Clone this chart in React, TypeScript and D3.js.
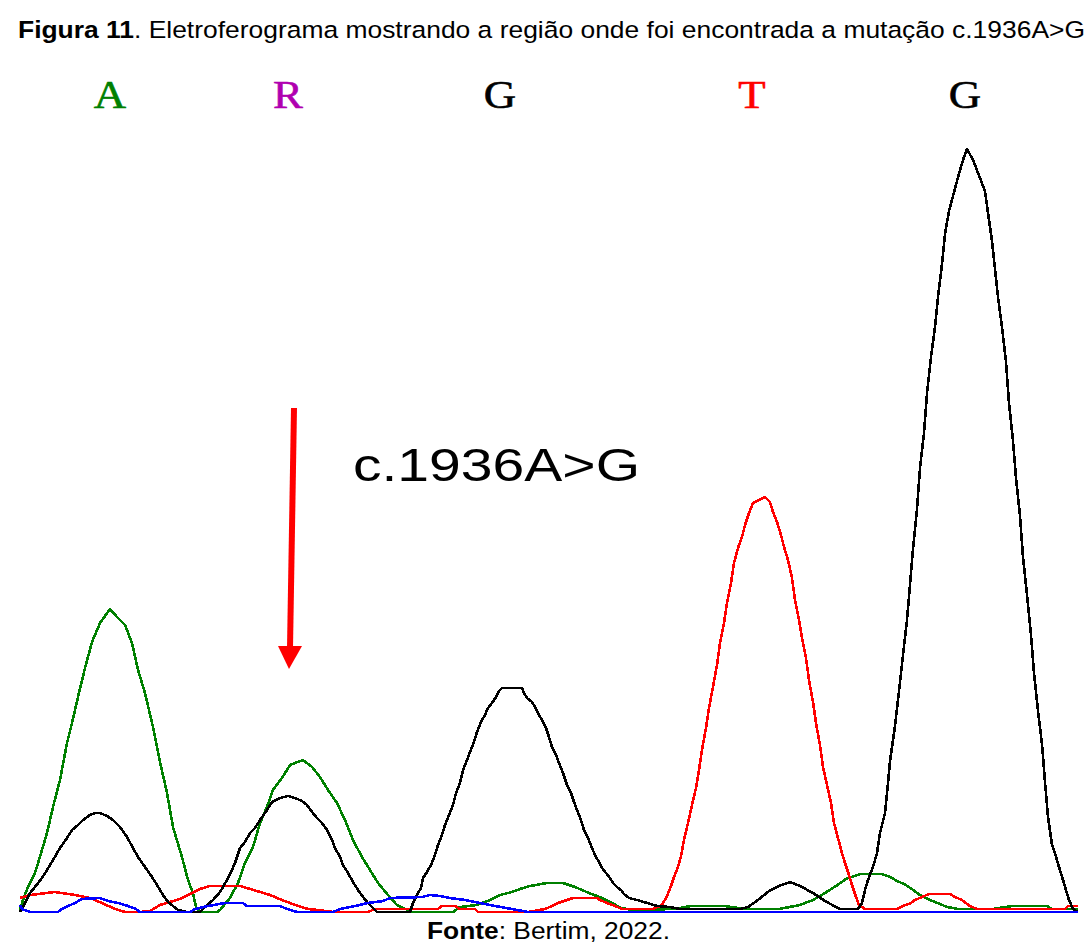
import React, { useEffect, useRef } from "react";
import * as d3 from "d3";

// trace samples: [scan, signal]
const traceA: [number, number][] = [
  [0, 2], [2, 9], [4, 15], [8, 25], [15, 39], [22, 62], [27, 79], [33, 105], [40, 132], [47, 169],
  [52, 189], [58, 215], [65, 244], [72, 270], [80, 289], [90, 303], [97, 295], [105, 287], [112, 269],
  [118, 242], [125, 219], [133, 185], [140, 150], [147, 119], [153, 85], [162, 55], [168, 32], [173, 19],
  [176, 5], [180, 0], [197, 0], [200, 2], [210, 14], [218, 29], [225, 49], [233, 65], [240, 89],
  [247, 105], [253, 122], [262, 134], [270, 147], [283, 152], [292, 145], [300, 135], [308, 122],
  [317, 109], [325, 92], [333, 72], [342, 55], [350, 42], [358, 29], [368, 17], [377, 7], [392, 0],
  [433, 0], [440, 5], [457, 7], [470, 12], [480, 17], [492, 20], [500, 23], [510, 26], [527, 29],
  [543, 29], [555, 25], [569, 19], [582, 14], [592, 9], [601, 4], [612, 2], [654, 3], [671, 6],
  [705, 6], [724, 3], [759, 3], [780, 7], [793, 12], [805, 19], [816, 26], [826, 33], [840, 38],
  [862, 38], [870, 35], [877, 31], [884, 28], [892, 23], [900, 17], [910, 12], [920, 8], [927, 5],
  [938, 3], [973, 3], [992, 6], [1027, 6], [1032, 3], [1058, 3],
];

const traceG: [number, number][] = [
  [0, 0], [5, 9], [10, 19], [15, 25], [22, 34], [27, 42], [33, 52], [40, 64], [47, 74], [52, 82],
  [58, 87], [63, 92], [70, 97], [75, 99], [80, 99], [87, 96], [93, 92], [100, 85], [107, 75], [113, 64],
  [118, 55], [125, 45], [132, 35], [137, 27], [143, 17], [148, 10], [153, 6], [158, 2], [167, 0],
  [180, 0], [187, 7], [193, 12], [200, 20], [207, 32], [212, 42], [215, 49], [220, 64], [225, 70],
  [230, 79], [235, 84], [240, 92], [247, 102], [252, 110], [260, 114], [268, 116], [275, 114],
  [282, 111], [287, 107], [292, 100], [297, 94], [302, 89], [307, 82], [312, 72], [315, 64], [320, 55],
  [323, 47], [328, 39], [333, 30], [338, 22], [343, 15], [348, 9], [353, 4], [357, 0], [390, 0],
  [393, 9], [397, 17], [401, 24], [403, 34], [407, 40], [411, 47], [415, 57], [418, 67], [422, 77],
  [425, 87], [429, 97], [433, 107], [436, 119], [440, 129], [443, 142], [447, 152], [450, 160],
  [454, 170], [457, 180], [461, 190], [465, 197], [468, 204], [472, 209], [476, 215], [479, 221],
  [482, 224], [502, 224], [504, 219], [507, 214], [512, 210], [515, 205], [518, 199], [522, 192],
  [526, 184], [529, 175], [532, 165], [536, 157], [539, 149], [543, 139], [547, 127], [551, 119],
  [554, 110], [557, 102], [561, 92], [564, 82], [568, 74], [572, 64], [575, 57], [579, 50], [582, 44],
  [586, 39], [590, 34], [593, 29], [597, 25], [601, 22], [604, 18], [609, 14], [617, 12], [627, 9],
  [637, 6], [650, 5], [660, 3], [720, 3], [728, 5], [738, 12], [749, 21], [759, 26], [770, 30],
  [780, 26], [793, 19], [805, 11], [816, 5], [820, 3], [838, 3], [842, 9], [845, 22], [848, 32],
  [853, 45], [857, 59], [860, 79], [865, 99], [868, 129], [870, 151], [875, 186], [879, 221],
  [883, 257], [887, 292], [890, 327], [893, 363], [897, 403], [900, 444], [904, 479], [907, 519],
  [911, 555], [915, 585], [918, 615], [922, 648], [925, 678], [929, 701], [933, 716], [937, 731],
  [943, 752], [947, 763], [953, 752], [960, 734], [965, 721], [968, 699], [972, 671], [975, 643],
  [978, 615], [982, 585], [986, 550], [989, 509], [993, 471], [996, 434], [1000, 396], [1003, 355],
  [1007, 317], [1011, 277], [1014, 239], [1018, 201], [1022, 168], [1025, 130], [1028, 95],
  [1032, 67], [1035, 59], [1039, 45], [1043, 32], [1046, 22], [1049, 12], [1053, 3], [1058, 0],
];

const traceT: [number, number][] = [
  [0, 14], [10, 17], [35, 20], [55, 17], [70, 14], [82, 9], [95, 3], [105, 0], [120, 0], [130, 1],
  [140, 7], [150, 10], [160, 13], [170, 18], [180, 23], [190, 26], [220, 26], [230, 23], [240, 20],
  [250, 17], [262, 12], [270, 9], [278, 6], [288, 3], [298, 2], [313, 0], [348, 0], [355, 3],
  [418, 3], [422, 6], [435, 6], [440, 3], [455, 3], [458, 0], [508, 0], [525, 3], [532, 6], [538, 9],
  [547, 12], [553, 14], [577, 14], [580, 12], [587, 9], [595, 6], [602, 3], [633, 3], [642, 7],
  [647, 16], [651, 26], [654, 35], [658, 45], [661, 56], [664, 72], [668, 89], [672, 107], [676, 124],
  [679, 142], [682, 162], [686, 184], [689, 204], [693, 225], [697, 247], [700, 269], [704, 289],
  [707, 309], [711, 329], [714, 349], [718, 364], [722, 375], [725, 387], [729, 399], [733, 409],
  [737, 411], [745, 415], [750, 410], [753, 400], [757, 390], [761, 377], [764, 365], [768, 352],
  [772, 334], [775, 312], [779, 292], [782, 274], [786, 254], [789, 232], [793, 210], [796, 189],
  [800, 167], [803, 145], [807, 127], [811, 109], [814, 89], [818, 74], [822, 59], [825, 49],
  [829, 37], [832, 27], [836, 15], [839, 7], [845, 3], [877, 3], [883, 6], [891, 9], [895, 12],
  [902, 15], [909, 18], [930, 18], [935, 15], [942, 12], [946, 9], [950, 6], [957, 3], [1027, 3],
  [1045, 3], [1048, 6], [1058, 6],
];

const traceC: [number, number][] = [
  [0, 7], [2, 3], [10, 0], [38, 0], [42, 3], [48, 6], [55, 9], [62, 13], [80, 14], [88, 11], [98, 9],
  [108, 6], [116, 3], [120, 0], [170, 0], [175, 3], [188, 6], [205, 9], [223, 9], [227, 6], [260, 6],
  [267, 3], [277, 0], [313, 0], [320, 3], [335, 6], [348, 9], [363, 11], [370, 14], [402, 15],
  [410, 17], [420, 16], [430, 14], [445, 12], [460, 9], [475, 6], [492, 3], [508, 0], [1058, 0],
];

const baseCalls = ["A", "R", "G", "T", "G"];
const baseScans = [90, 268, 480, 732, 945];
const baseColors = ["#008000", "#b000b0", "#000000", "#ff0000", "#000000"];

const mutationLabel = "c.1936A>G";

const W = 1091;
const H = 947;

const Electropherogram = () => {
  const ref = useRef<HTMLDivElement>(null);

  useEffect(() => {
    d3.select(ref.current).select("svg").remove();

    const x = d3.scaleLinear().domain([0, 1058]).range([20, 1078]);
    const y = d3.scaleLinear().domain([0, 800]).range([912, 112]);

    const svg = d3
      .select(ref.current)
      .append("svg")
      .attr("width", W)
      .attr("height", H)
      .style("display", "block")
      .style("background", "#fff");

    // caption
    const title = svg
      .append("text")
      .attr("x", 18)
      .attr("y", 38)
      .attr("textLength", 1067)
      .attr("lengthAdjust", "spacingAndGlyphs")
      .style("font-family", "'Liberation Sans', Arial, sans-serif")
      .style("font-size", "24.5px")
      .style("fill", "#000");
    title.append("tspan").style("font-weight", "bold").text("Figura 11");
    title
      .append("tspan")
      .text(". Eletroferograma mostrando a região onde foi encontrada a mutação c.1936A>G");

    // base calls
    svg
      .selectAll("text.base")
      .data(baseCalls)
      .enter()
      .append("text")
      .attr("class", "base")
      .attr("text-anchor", "middle")
      .attr("transform", (_d, i) => `translate(${x(baseScans[i])},108) scale(1.12,1)`)
      .style("font-family", "'Liberation Serif', 'Times New Roman', serif")
      .style("font-size", "40px")
      .style("fill", (_d, i) => baseColors[i])
      .style("stroke", (_d, i) => baseColors[i])
      .style("stroke-width", 0.6)
      .text((d) => d);

    // traces
    const line = d3
      .line<[number, number]>()
      .x((d) => x(d[0]))
      .y((d) => y(d[1]));

    const traces = [
      { data: traceA, color: "#008000" },
      { data: traceT, color: "#ff0000" },
      { data: traceG, color: "#000000" },
      { data: traceC, color: "#0000ff" },
    ];

    svg
      .selectAll("path.trace")
      .data(traces)
      .enter()
      .append("path")
      .attr("class", "trace")
      .attr("d", (d) => line(d.data))
      .attr("fill", "none")
      .attr("stroke", (d) => d.color)
      .attr("stroke-width", 2.6)
      .attr("stroke-linejoin", "round")
      .attr("shape-rendering", "crispEdges");

    // mutation arrow + label
    const blur = svg.append("defs").append("filter").attr("id", "soft");
    blur.append("feGaussianBlur").attr("stdDeviation", 0.7);

    const arrow = svg.append("g").attr("filter", "url(#soft)");
    arrow
      .append("line")
      .attr("x1", x(274))
      .attr("y1", y(504))
      .attr("x2", x(270))
      .attr("y2", y(264))
      .attr("stroke", "#ff0000")
      .attr("stroke-width", 6);
    arrow
      .append("path")
      .attr(
        "d",
        `M${x(258)},${y(266)} L${x(282)},${y(266)} L${x(269)},${y(243)} Z`
      )
      .attr("fill", "#ff0000");

    svg
      .append("text")
      .attr("x", x(333))
      .attr("y", 481)
      .attr("textLength", 287)
      .attr("lengthAdjust", "spacingAndGlyphs")
      .style("font-family", "'Liberation Sans', Arial, sans-serif")
      .style("font-size", "47px")
      .style("fill", "#000")
      .text(mutationLabel);

    // source
    const src = svg
      .append("text")
      .attr("x", 427)
      .attr("y", 939)
      .attr("textLength", 243)
      .attr("lengthAdjust", "spacingAndGlyphs")
      .style("font-family", "'Liberation Sans', Arial, sans-serif")
      .style("font-size", "23px")
      .style("fill", "#000");
    src.append("tspan").style("font-weight", "bold").text("Fonte");
    src.append("tspan").text(": Bertim, 2022.");
  }, []);

  return <div ref={ref} style={{ position: "absolute", left: 0, top: 0 }} />;
};

export default function App() {
  return <Electropherogram />;
}
